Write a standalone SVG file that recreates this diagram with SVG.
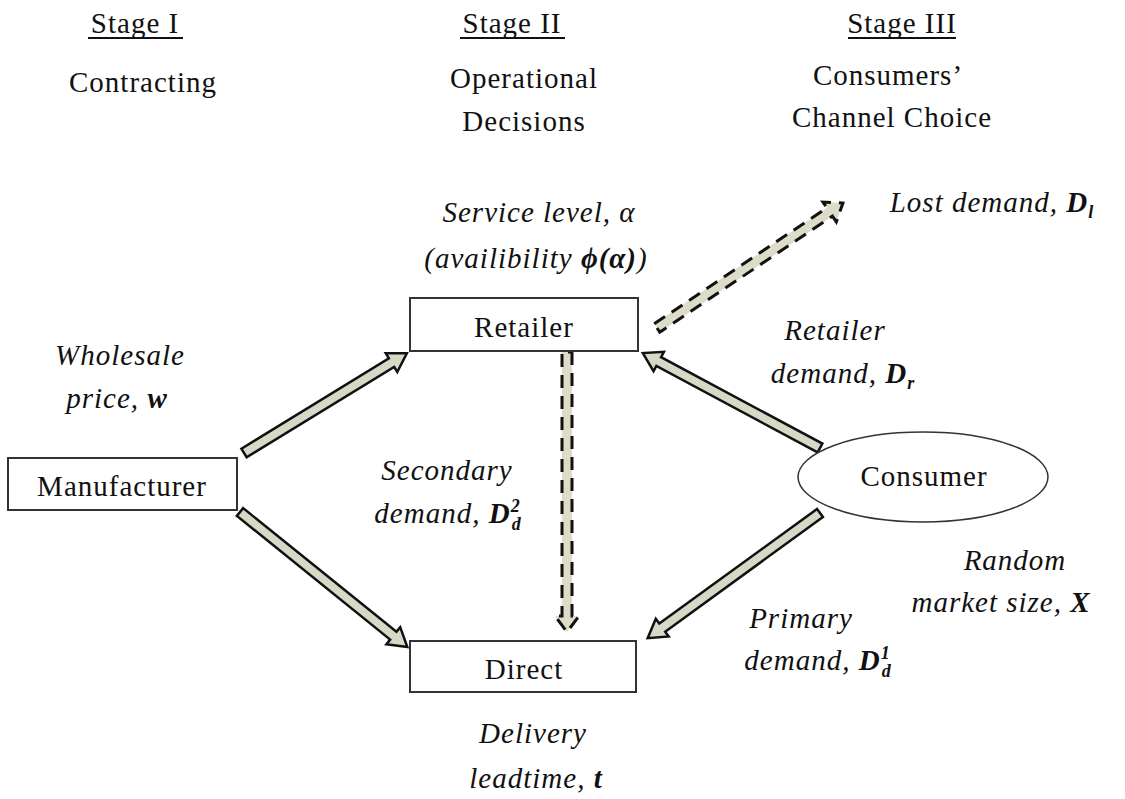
<svg xmlns="http://www.w3.org/2000/svg" width="1125" height="799" viewBox="0 0 1125 799">
<style>
text{font-family:"Liberation Serif","Times New Roman",serif;fill:#111;text-anchor:middle}
.r{font-size:29px;letter-spacing:1px}
.i{font-size:29px;font-style:italic;letter-spacing:1px}
.b{font-weight:bold}
.sm{font-size:18px;font-weight:bold}
.box{fill:#fff;stroke:#333;stroke-width:2}
.blk{fill:#d7d8c6;stroke:#111;stroke-width:2.5;stroke-linejoin:miter}
.dash{fill:#dcdcc9;stroke:#111;stroke-width:3;stroke-dasharray:13 8}
.ul{stroke:#111;stroke-width:2}
</style>
<rect width="1125" height="799" fill="#fff"/>
<g id="headings">
<text class="r" x="135" y="33">Stage I</text>
<line class="ul" x1="88" y1="38" x2="183" y2="38"/>
<text class="r" x="512" y="33">Stage II</text>
<line class="ul" x1="460" y1="38" x2="565" y2="38"/>
<text class="r" x="902" y="33">Stage III</text>
<line class="ul" x1="848" y1="38" x2="956" y2="38"/>
<text class="r" x="143" y="92">Contracting</text>
<text class="r" x="524" y="88">Operational</text>
<text class="r" x="524" y="131">Decisions</text>
<text class="r" x="888" y="85">Consumers’</text>
<text class="r" x="892" y="127">Channel Choice</text>
</g>
<g id="connectors">
<polygon class="blk" points="0,-5 173,-5 173,-11 191,0 173,11 173,5 0,5" transform="translate(244,453) rotate(-31.5)"/>
<polygon class="blk" points="0,-5 197,-5 197,-11 215,0 197,11 197,5 0,5" transform="translate(240,512) rotate(38.9)"/>
<polygon class="blk" points="0,-5 183,-5 183,-11 201,0 183,11 183,5 0,5" transform="translate(820,448) rotate(-151.8)"/>
<polygon class="blk" points="0,-5 195,-5 195,-11 213,0 195,11 195,5 0,5" transform="translate(820,513) rotate(144)"/>
<polygon class="dash" points="0,-5 208,-5 208,-12 224,0 208,12 208,5 0,5" transform="translate(657,328) rotate(-33.9)"/>
<polygon class="dash" points="0,-5 264,-5 264,-12 280,0 264,12 264,5 0,5" transform="translate(567,352) rotate(90)"/>
</g>
<g id="retailer">
<rect class="box" x="410" y="298" width="228" height="53"/>
<text class="r" x="524" y="337">Retailer</text>
</g>
<g id="manufacturer">
<rect class="box" x="8" y="458" width="229" height="52"/>
<text class="r" x="122" y="496">Manufacturer</text>
</g>
<g id="direct">
<rect class="box" x="410" y="641" width="226" height="51"/>
<text class="r" x="524" y="679">Direct</text>
</g>
<g id="consumer">
<ellipse fill="#fff" stroke="#333" stroke-width="1.5" cx="923" cy="477" rx="125" ry="45"/>
<text class="r" x="924" y="486">Consumer</text>
</g>
<g id="labels">
<text class="i" x="539" y="222">Service level, α</text>
<text class="i" x="536" y="268">(availibility <tspan class="b">ϕ(α)</tspan>)</text>
<text class="i" x="992" y="212">Lost demand, <tspan class="b">D</tspan><tspan class="sm" dy="6">l</tspan></text>
<text class="i" x="120" y="365">Wholesale</text>
<text class="i" x="117" y="408">price, <tspan class="b">w</tspan></text>
<text class="i" x="835" y="340">Retailer</text>
<text class="i" x="843" y="383">demand, <tspan class="b">D</tspan><tspan class="sm" dy="6">r</tspan></text>
<text class="i" x="447" y="480">Secondary</text>
<text class="i" x="448" y="523">demand, <tspan class="b">D</tspan><tspan class="sm" dy="-11">2</tspan><tspan class="sm" dx="-9" dy="18">d</tspan></text>
<text class="i" x="1015" y="570">Random</text>
<text class="i" x="1001" y="612">market size, <tspan class="b">X</tspan></text>
<text class="i" x="801" y="628">Primary</text>
<text class="i" x="818" y="670">demand, <tspan class="b">D</tspan><tspan class="sm" dy="-11">1</tspan><tspan class="sm" dx="-9" dy="18">d</tspan></text>
<text class="i" x="533" y="743">Delivery</text>
<text class="i" x="536" y="788">leadtime, <tspan class="b">t</tspan></text>
</g>
</svg>
